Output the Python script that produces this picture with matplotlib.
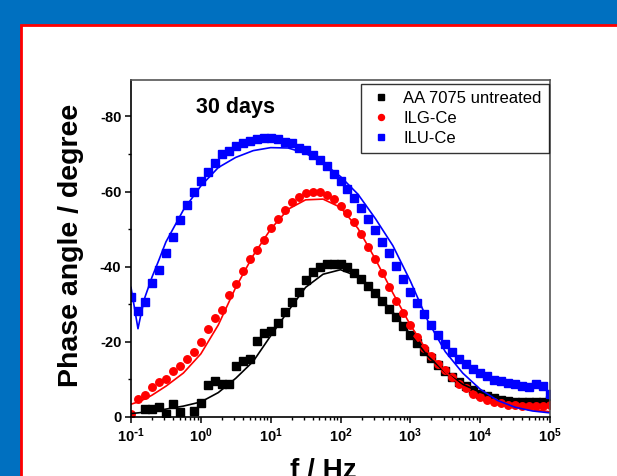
import numpy as np
import matplotlib
matplotlib.use("Agg")
import matplotlib.pyplot as plt
from matplotlib.patches import Rectangle
from matplotlib.ticker import FuncFormatter, LogLocator, NullFormatter, MultipleLocator

plt.rcParams["font.family"] = ["Liberation Sans", "DejaVu Sans"]
plt.rcParams["font.weight"] = "bold"
plt.rcParams["axes.unicode_minus"] = False

# measured frequencies, 10 points per decade from 0.1 Hz to 100 kHz
freq = 10 ** (np.arange(-10, 51) / 10.0)

nan = np.nan
phase_untreated = [nan, nan, -2.0, -2.2, -2.7, -0.9, -3.4, -1.3, nan, -1.6,
                   -3.7, -8.4, -9.7, -8.9, -8.9, -13.5, -14.9, -15.5, -20.1, -22.3,
                   -22.8, -24.9, -27.9, -30.5, -33.2, -36.5, -38.5, -39.8, -40.6, -40.8,
                   -40.6, -39.8, -38.2, -36.8, -34.8, -32.9, -31.0, -28.8, -26.6, -24.1,
                   -21.9, -19.8, -17.6, -15.6, -13.8, -12.3, -10.7, -9.4, -8.2, -7.3,
                   -6.2, -5.5, -5.0, -4.6, -4.2, -4.1, -4.0, -3.9, -4.1, -4.1, -4.5]
phase_ilg = [-0.9, -4.8, -5.8, -7.9, -9.2, -10.0, -12.3, -13.5, -15.5, -17.3,
             -19.9, -23.5, -26.4, -28.6, -32.6, -35.4, -38.8, -42.1, -44.5, -47.1,
             -50.3, -52.7, -55.1, -57.1, -58.6, -59.5, -59.8, -59.8, -59.2, -58.0,
             -56.2, -54.4, -51.8, -48.7, -45.3, -42.1, -38.2, -34.5, -31.0, -27.6,
             -24.5, -21.4, -18.3, -16.2, -14.2, -12.5, -10.7, -8.9, -7.6, -6.2,
             -5.2, -4.6, -4.0, -3.6, -3.3, -3.1, -2.9, -2.8, -2.8, -2.9, -3.1]
phase_ilu = [-31.9, -28.3, -30.5, -35.7, -39.2, -43.7, -47.8, -52.4, -56.5, -59.8,
             -62.7, -65.1, -67.7, -70.0, -70.8, -72.2, -72.9, -73.5, -73.9, -74.2,
             -74.2, -73.9, -73.3, -72.8, -71.7, -71.0, -69.8, -68.4, -66.8, -64.8,
             -62.9, -60.7, -58.4, -55.5, -52.7, -49.8, -46.7, -43.6, -40.3, -36.8,
             -33.4, -30.3, -27.5, -24.6, -21.9, -19.5, -17.4, -15.5, -14.0, -12.9,
             -11.7, -10.8, -9.9, -9.5, -9.0, -8.7, -8.2, -8.0, -8.7, -8.2, -6.2]

# equivalent circuit fits, sampled on log10(f)
fit_logf = [-1.0, -0.95, -0.9, -0.85, -0.8, -0.7, -0.6, -0.5, -0.25, 0.0,
            0.25, 0.5, 0.75, 1.0, 1.25, 1.5, 1.75, 2.0, 2.25, 2.5,
            2.75, 3.0, 3.25, 3.5, 3.75, 4.0, 4.25, 4.5, 4.75, 5.0]
fit_untreated = [-0.9, -1.0, -1.1, -1.2, -1.3, -1.5, -1.8, -2.1, -2.9, -4.0,
                 -6.5, -10.3, -14.8, -21.6, -28.2, -34.5, -38.0, -39.2, -37.4, -33.1,
                 -27.9, -22.0, -16.2, -11.9, -8.7, -6.6, -5.3, -4.7, -4.4, -4.4]
fit_ilg = [-3.4, -3.7, -4.0, -4.4, -4.8, -5.8, -7.0, -8.2, -11.7, -16.8,
           -24.5, -34.5, -43.0, -50.0, -55.3, -57.8, -58.0, -55.8, -50.2, -42.0,
           -33.0, -24.5, -17.3, -12.0, -8.0, -5.0, -3.6, -2.6, -1.9, -1.4]
fit_ilu = [-34.5, -29.0, -23.5, -28.0, -31.9, -37.2, -41.8, -46.6, -55.1, -61.5,
           -66.4, -69.1, -70.9, -71.7, -71.6, -70.2, -67.6, -64.0, -59.3, -52.8,
           -45.6, -36.2, -25.6, -17.4, -11.7, -7.4, -4.4, -2.6, -1.6, -1.1]
fit_freq = 10 ** np.array(fit_logf)

labels = ["AA 7075 untreated", "ILG-Ce", "ILU-Ce"]
colors = ["black", "red", "blue"]
markers = ["s", "o", "s"]


def decade_label(v, pos):
    n = int(round(np.log10(v)))
    exp = r"\text{-}%d" % abs(n) if n < 0 else "%d" % n
    return r"$\mathdefault{10^{%s}}$" % exp


fig = plt.figure(figsize=(6.17, 4.76), dpi=100)
fig.patch.set_facecolor("#0070C0")
fig.add_artist(Rectangle((20.5 / 617, -0.1), 2.0, (476 - 24.5) / 476 + 0.1,
                         transform=fig.transFigure, facecolor="white",
                         edgecolor="#FF0000", linewidth=2, zorder=0))

ax = fig.add_axes([131 / 617, 59 / 476, 419 / 617, 337 / 476])

for y, c, m, lab in zip([phase_untreated, phase_ilg, phase_ilu], colors, markers, labels):
    ax.plot(freq, y, linestyle="none", marker=m, ms=5.4, color=c, mec=c, label=lab)
for y, c in zip([fit_untreated, fit_ilg, fit_ilu], colors):
    ax.plot(fit_freq, y, color=c, lw=1.2)

ax.set_xscale("log")
ax.set_xlim(0.1, 1e5)
ax.set_ylim(0, -89.7)

ax.xaxis.set_major_locator(LogLocator(base=10, numticks=10))
ax.xaxis.set_minor_locator(LogLocator(base=10, subs=np.arange(2, 10), numticks=20))
ax.xaxis.set_minor_formatter(NullFormatter())
ax.xaxis.set_major_formatter(FuncFormatter(decade_label))
ax.yaxis.set_major_locator(MultipleLocator(20))
ax.yaxis.set_minor_locator(MultipleLocator(10))

ax.tick_params(which="major", direction="out", length=4, width=1.1, pad=3,
               labelsize=10.5, top=False, right=False)
ax.tick_params(which="minor", direction="out", length=2.3, width=1.0, top=False, right=False)

for side in ["left", "bottom"]:
    ax.spines[side].set_linewidth(1.2)
    ax.spines[side].set_color("black")
for side in ["top", "right"]:
    ax.spines[side].set_linewidth(1.2)
    ax.spines[side].set_color("#555555")

ax.set_ylabel("Phase angle / degree", fontsize=20.5, fontweight="bold")
ax.yaxis.set_label_coords(-0.112, 0.51)
ax.set_xlabel("f / Hz", fontsize=20, fontweight="bold")
ax.xaxis.set_label_coords(0.458, -0.122)

ax.text(0.155, 0.903, "30 days", transform=ax.transAxes, fontsize=15.5,
        fontweight="bold", va="baseline", ha="left")

leg = ax.legend(loc="upper right", bbox_to_anchor=(0.997, 0.988), borderaxespad=0,
                prop={"size": 12, "weight": "normal"}, frameon=True, fancybox=False,
                edgecolor="black", markerscale=0.8, handlelength=1.65, handletextpad=0.49,
                labelspacing=0.3, borderpad=0.42)
leg.get_frame().set_linewidth(1.0)

fig.savefig("out.png", dpi=100, facecolor=fig.get_facecolor())
